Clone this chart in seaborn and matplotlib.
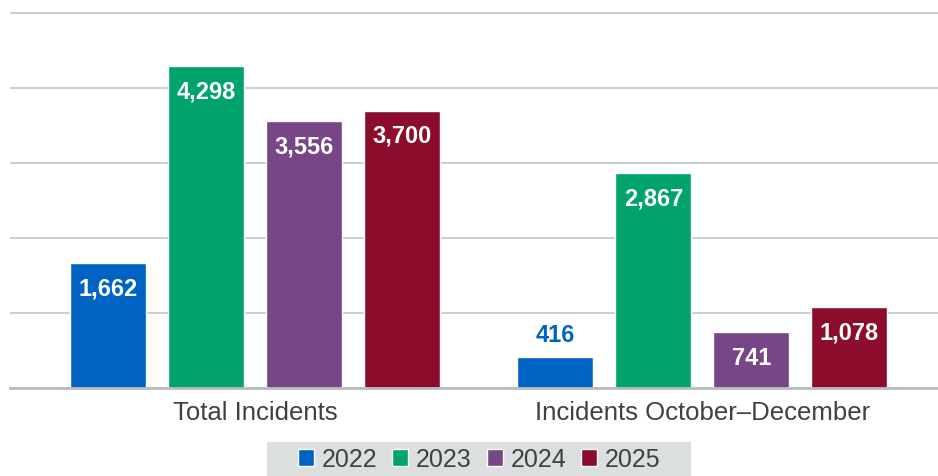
import pandas as pd
import matplotlib.pyplot as plt
from matplotlib.patches import Rectangle
import seaborn as sns

categories = ['Total Incidents', 'Incidents October–December']
years = ['2022', '2023', '2024', '2025']
total_incidents = [1662, 4298, 3556, 3700]
oct_dec_incidents = [416, 2867, 741, 1078]
colors = ['#0063c3', '#00a36c', '#774686', '#8b0d2b']

df = pd.DataFrame({
    'category': [categories[0]] * len(years) + [categories[1]] * len(years),
    'year': years * 2,
    'count': total_incidents + oct_dec_incidents,
})

sns.set_theme(style='white')
plt.rcParams['font.family'] = ['Liberation Sans', 'DejaVu Sans']

W, H = 938, 477
ymax = 5040
fig = plt.figure(figsize=(W / 100, H / 100), dpi=100)
ax_h = 375 * ymax / 5000
ax = fig.add_axes([10 / W, 1 - 389 / H, 928 / W, ax_h / H])

sns.barplot(data=df, x='category', y='count', hue='year', palette=colors,
            width=0.877, gap=0.224, saturation=1, ax=ax)

# value labels: inside the bar in white, above it when the bar is too short
for cont, col in zip(ax.containers, colors):
    for bar in cont:
        h = bar.get_height()
        x = bar.get_x() + bar.get_width() / 2
        if h < 600:
            ax.annotate(f'{h:,.0f}', (x, h), xytext=(0, 16), textcoords='offset points',
                        ha='center', va='center', fontsize=17, fontweight='bold', color=col)
        else:
            ax.annotate(f'{h:,.0f}', (x, h), xytext=(0, -18), textcoords='offset points',
                        ha='center', va='center', fontsize=17, fontweight='bold', color='white')

ax.set_xlim(-0.549, 1.527)
ax.set_ylim(0, ymax)
ax.set_yticks(range(0, 5001, 1000))
ax.set_yticklabels([])
ax.yaxis.grid(True, color='#c9cccc', lw=1.3)
ax.set_axisbelow(True)
for s in ['top', 'right', 'left']:
    ax.spines[s].set_visible(False)
ax.spines['bottom'].set_color('#b9bcbc')
ax.spines['bottom'].set_linewidth(2)
ax.tick_params(axis='x', length=0, pad=9, labelsize=18.5, labelcolor='#404040')
ax.tick_params(axis='y', length=0)
ax.set_xlabel('')
ax.set_ylabel('')

# grey legend band
fig.patches.append(Rectangle((267 / W, 0), 424 / W, 34 / H, transform=fig.transFigure,
                             facecolor='#dcdfe0', edgecolor='none', zorder=0))

handles, labels = ax.get_legend_handles_labels()
ax.legend_.remove()
leg = fig.legend(handles, labels, loc='center', bbox_to_anchor=(479 / W, 17 / H),
                 ncol=4, fontsize=18, frameon=False,
                 handlelength=0.65, handleheight=0.65, handletextpad=0.3,
                 columnspacing=0.6, borderpad=0, borderaxespad=0)
for t in leg.get_texts():
    t.set_color('#404040')

fig.savefig('out.png', dpi=100)
